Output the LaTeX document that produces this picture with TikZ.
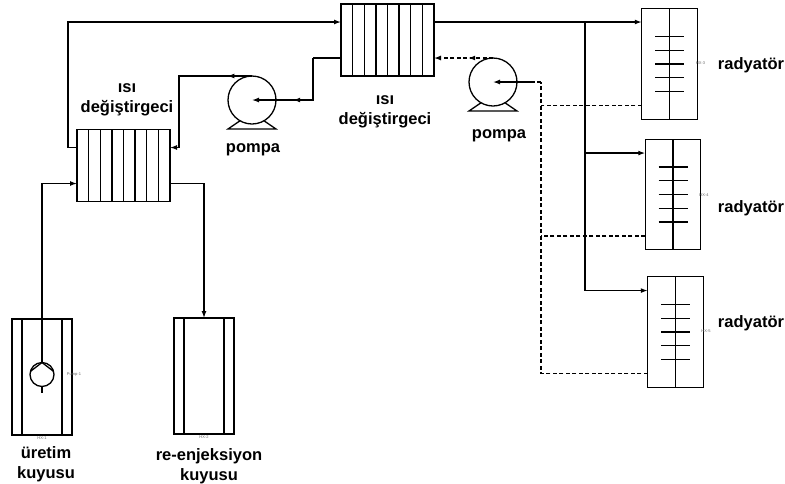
\documentclass[tikz,border=0pt]{standalone}
\usepackage{fontspec}
\setmainfont{Liberation Sans}
\usetikzlibrary{arrows.meta,calc,decorations.markings}
\tikzset{
  pipe/.style={draw=black, line width=1.3pt},
  flow/.style={pipe, -{Latex[length=7pt,width=5pt]}},
  returnline/.style={pipe, dash pattern=on 4pt off 2.5pt},
  midtip/.style={postaction={decorate}, decoration={markings,
    mark=at position #1 with {\arrow{Latex[length=7pt,width=5pt]}}}},
  hxbox/.style={pipe, fill=white, inner sep=0pt, outer sep=0pt, minimum width=93pt, minimum height=72pt},
  radbox/.style={pipe, fill=white, inner sep=0pt, outer sep=0pt, minimum width=55.5pt, minimum height=110.5pt},
  wellbox/.style={pipe, fill=white, inner sep=0pt, outer sep=0pt, minimum width=60pt, minimum height=116pt},
  pumpbig/.style={pipe, circle, inner sep=0pt, outer sep=0pt, minimum size=48pt},
  pumpsmall/.style={pipe, circle, inner sep=0pt, outer sep=0pt, minimum size=24pt},
  caption/.style={font=\fontsize{16.5}{20}\selectfont\bfseries, align=center, inner sep=0pt},
  smalltag/.style={font=\fontsize{4}{5}\selectfont, text=black!60, inner sep=0pt}
}
\begin{document}
\begin{tikzpicture}[x=1pt,y=-1pt]
    \useasboundingbox (0,0) rectangle (785,483);
    % equipment
    \node[hxbox] (hxa) at (123.5,165.5) {};
    \node[hxbox] (hxb) at (387.5,40) {};
    \node[radbox] (rada) at (669.5,64) {};
    \node[radbox] (radb) at (673,194.5) {};
    \node[radbox] (radc) at (675.5,332) {};
    \node[wellbox] (wella) at (42,377) {};
    \node[wellbox] (wellb) at (204,376) {};
    \node[pumpbig] (pumpa) at (252,100) {};
    \node[pumpbig] (pumpb) at (493,82) {};
    \node[pumpsmall] (pumpc) at (42,374.5) {};
    % inner lines
    \foreach \n in {hxa,hxb} {
      \foreach \k in {1,...,7}
        \draw[pipe] ($(\n.north west)!\k/8!(\n.north east)$) -- ($(\n.south west)!\k/8!(\n.south east)$);
      \coordinate (\n-uw) at ($(\n.north west)!0.25!(\n.south west)$);
      \coordinate (\n-lw) at ($(\n.north west)!0.75!(\n.south west)$);
      \coordinate (\n-ue) at ($(\n.north east)!0.25!(\n.south east)$);
      \coordinate (\n-le) at ($(\n.north east)!0.75!(\n.south east)$);
    }
    \foreach \r in {rada,radb,radc} {
      \draw[pipe] (\r.north) -- (\r.south);
      \foreach \k in {-2,...,2}
        \draw[pipe] ($(\r)+(-14.5,\k*13.8)$) -- ($(\r)+(14.5,\k*13.8)$);
      \coordinate (\r-in) at ($(\r.north west)!0.125!(\r.south west)$);
      \coordinate (\r-out) at ($(\r.north west)!0.875!(\r.south west)$);
    }
    \foreach \w in {wella,wellb} {
      \draw[pipe] ($(\w.north west)!1/6!(\w.north east)$) -- ($(\w.south west)!1/6!(\w.south east)$);
      \draw[pipe] ($(\w.north west)!5/6!(\w.north east)$) -- ($(\w.south west)!5/6!(\w.south east)$);
    }
    \foreach \p in {pumpa,pumpb}
      \draw[pipe] (\p.240) -- ($(\p)+(-24,29)$) -- ($(\p)+(24,29)$) -- (\p.300);
    \draw[pipe] (pumpc.165) -- (pumpc.north) -- (pumpc.15);
    \draw[pipe] (pumpc.south) -- ($(pumpc.south)+(0,6)$);
    % junctions
    \coordinate (loopa) at (68,22);
    \coordinate (loopb) at (179,76);
    \coordinate (loopc) at (313,58);
    \coordinate (supply) at (585,22);
    \coordinate (back) at (541,82);
    % connectors
    \draw[flow] (pumpc.north) |- (hxa-lw);
    \draw[flow] (hxa-le) -| (wellb.north);
    \draw[flow] (hxa-uw) -| (loopa) -- (hxb-uw);
    \draw[flow, midtip=0.16] (pumpa.north) -- (loopb) -- (loopb |- hxa-ue) -- (hxa-ue);
    \draw[pipe] (hxb-lw) -- (loopc);
    \draw[flow, midtip=0.6] (loopc) |- (pumpa.center);
    \draw[flow] (hxb-ue) -- (hxb-ue -| rada.west);
    \draw[flow] (supply) |- (radb-in);
    \draw[flow] (supply) |- (radc-in);
    \draw[returnline] (radc-out) -| (back);
    \draw[returnline] (rada-out) -- (back |- rada-out);
    \draw[returnline] (radb-out) -- (back |- radb-out);
    \draw[returnline] (back) -- ($(pumpb)+(38,0)$);
    \draw[flow] ($(pumpb)+(38,0)$) -- (pumpb.center);
    \draw[flow, returnline, midtip=0.42] (pumpb.north) -- (pumpb.north -| hxb-le);
    % texts
    \node[caption] (hxalabel) at (127,99.5) {ısı\\değiştirgeci};
    \node[caption] (hxblabel) at (385,112) {ısı\\değiştirgeci};
    \node[caption] (pumpalabel) at (253,150) {pompa};
    \node[caption] (pumpblabel) at (499,135.5) {pompa};
    \node[caption] (radalabel) at (751,65) {radyatör};
    \node[caption] (radblabel) at (751,208.5) {radyatör};
    \node[caption] (radclabel) at (751,323.5) {radyatör};
    \node[caption] (wellalabel) at (46,464) {üretim\\kuyusu};
    \node[caption] (wellblabel) at (209,466) {re-enjeksiyon\\kuyusu};
    \node[smalltag] (hxatag) at (42,438) {HX-1};
    \node[smalltag] (hxbtag) at (204,437) {HX-2};
    \node[smalltag] (pumptag) at (74,375) {Pump-1};
    \node[smalltag] (radatag) at (700.5,63) {HX-3};
    \node[smalltag] (radbtag) at (704,195) {HX-4};
    \node[smalltag] (radctag) at (706,331) {HX-5};
  \end{tikzpicture}
\end{document}
